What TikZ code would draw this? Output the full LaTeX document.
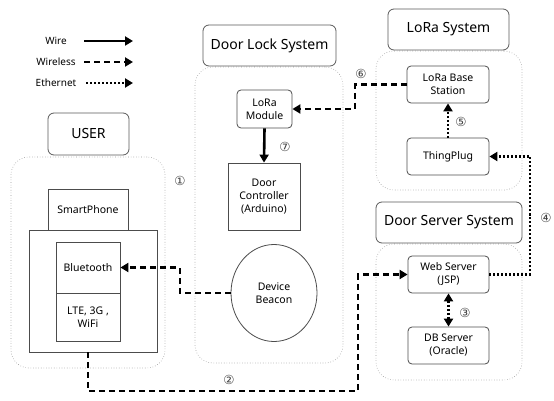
\documentclass[tikz,border=0pt]{standalone}
\usepackage{fontspec}
\setmainfont{Noto Sans}
\newfontfamily\circfont{DejaVu Sans}
\usetikzlibrary{arrows.meta,shapes.geometric}
\begin{document}
\begin{tikzpicture}[x=1pt,y=-1pt,
  titlebox/.style={draw=black!65,line width=0.8pt,rounded corners=6pt,font=\fontsize{14}{16}\selectfont,inner sep=0pt},
  container/.style={draw=black!40,line width=0.6pt,dotted,rounded corners=18pt,inner sep=0pt},
  rbox/.style={draw=black!70,line width=0.8pt,rounded corners=4pt,font=\fontsize{10.5}{13}\selectfont,align=center,inner sep=0pt},
  sbox/.style={draw=black!70,line width=0.8pt,font=\fontsize{10.5}{13}\selectfont,align=center,inner sep=0pt},
  num/.style={font=\circfont\fontsize{12.5}{13}\selectfont,text=black!75},
  wire/.style={line width=2.6pt,-{Triangle[length=8pt,width=9pt]}},
  wless/.style={line width=2.6pt,dash pattern=on 6pt off 4pt,-{Triangle[length=8pt,width=9pt]}},
  ether/.style={line width=2.6pt,dash pattern=on 2pt off 2pt,-{Triangle[length=8pt,width=9pt]}},
  leg/.style={font=\fontsize{10}{12}\selectfont}
]
\useasboundingbox (0,0) rectangle (554,401);

% legend
\node[leg] (lwire) at (56,41) {Wire};
\node[leg] (lwless) at (56,62) {Wireless};
\node[leg] (leth) at (56,83) {Ethernet};
\coordinate (a1) at (84,41); \coordinate (b1) at (133,41);
\coordinate (a2) at (84,62); \coordinate (b2) at (133,62);
\coordinate (a3) at (86,83); \coordinate (b3) at (133,83);
\draw[wire] (a1) -- (b1);
\draw[wless] (a2) -- (b2);
\draw[ether] (a3) -- (b3);

% USER
\node[container,minimum width=154,minimum height=211] (ucont) at (88,262.5) {};
\node[titlebox,minimum width=81,minimum height=42] (user) at (88.5,134) {USER};
\node[sbox,minimum width=80,minimum height=41] (sp) at (88,209.5) {SmartPhone};
\node[sbox,minimum width=128,minimum height=122] (ph) at (93,291) {};
\node[sbox,minimum width=64,minimum height=51] (bt) at (88,267.5) {Bluetooth};
\node[sbox,minimum width=64,minimum height=48] (lte) at (88,317) {LTE, 3G ,\\WiFi};

% Door Lock
\node[container,minimum width=148,minimum height=296] (dcont) at (269,215) {};
\node[titlebox,minimum width=133,minimum height=41] (dl) at (269.5,45.5) {Door Lock System};
\node[rbox,minimum width=55,minimum height=38] (lm) at (264.5,109) {LoRa\\Module};
\node[sbox,minimum width=72,minimum height=67] (dc) at (264,196.5) {Door\\Controller\\(Arduino)};
\node[sbox,ellipse,minimum width=86,minimum height=97] (bc) at (274,293) {Device\\Beacon};

% LoRa System
\node[container,minimum width=146,minimum height=139] (lcont) at (449,120.5) {};
\node[titlebox,minimum width=121,minimum height=41] (ls) at (448.5,29.5) {LoRa System};
\node[rbox,minimum width=82,minimum height=37] (lb) at (448,84.5) {LoRa Base\\Station};
\node[rbox,minimum width=82,minimum height=37] (tp) at (448,156.5) {ThingPlug};

% Door Server
\node[container,minimum width=146,minimum height=136] (scont) at (449,312) {};
\node[titlebox,minimum width=146,minimum height=41] (ds) at (449,222.5) {Door Server System};
\node[rbox,minimum width=81,minimum height=37] (ws) at (448.5,274.5) {Web Server\\(JSP)};
\node[rbox,minimum width=81,minimum height=37] (db) at (448.5,345.5) {DB Server\\(Oracle)};

% connectors
\coordinate (k6) at (355,97);
\coordinate (k4) at (530,215);
\coordinate (k1) at (180,280);
\coordinate (k2) at (358,391);
\draw[wire] (lm.south) -- (dc.north);
\draw[wless] (lb.west) -| (k6) |- (lm.east);
\draw[ether] (tp.north) -- (lb.south);
\draw[ether] (ws.east) -| (k4) |- (tp.east);
\draw[ether,{Triangle[length=8pt,width=9pt]}-{Triangle[length=8pt,width=9pt]}] (ws.south) -- (db.north);
\draw[wless] (bc.west) -| (k1) |- (bt.east);
\draw[wless] ([xshift=-5pt]ph.south) |- (k2) |- (ws.west);

% numbers
\node[num] (n1) at (180,181) {①};
\node[num] (n2) at (229,380) {②};
\node[num] (n3) at (465,313) {③};
\node[num] (n4) at (546,218) {④};
\node[num] (n5) at (461,122) {⑤};
\node[num] (n6) at (361,74) {⑥};
\node[num] (n7) at (285,147) {⑦};
\end{tikzpicture}
\end{document}
